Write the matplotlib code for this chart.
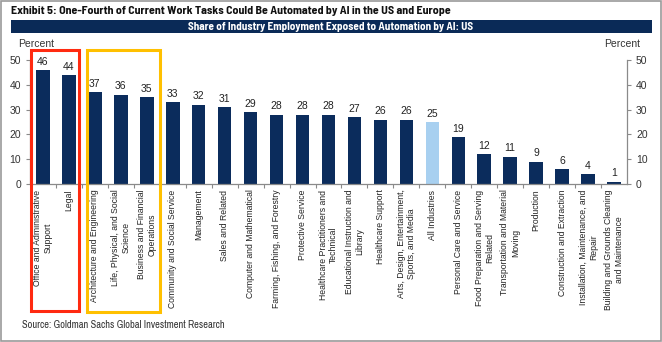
import matplotlib
matplotlib.use("Agg")
import matplotlib.pyplot as plt
from matplotlib.patches import Rectangle

plt.rcParams['font.family'] = ['Liberation Sans', 'DejaVu Sans']
narrow = ['Archivo Narrow', 'DejaVu Sans']
narrow_bold = ['Barlow Semi Condensed', 'Archivo Narrow', 'DejaVu Sans']

categories = [
    "Office and Administrative\nSupport",
    "Legal",
    "Architecture and Engineering",
    "Life, Physical, and Social\nScience",
    "Business and Financial\nOperations",
    "Community and Social Service",
    "Management",
    "Sales and Related",
    "Computer and Mathematical",
    "Farming, Fishing, and Forestry",
    "Protective Service",
    "Healthcare Practitioners and\nTechnical",
    "Educational Instruction and\nLibrary",
    "Healthcare Support",
    "Arts, Design, Entertainment,\nSports, and Media",
    "All Industries",
    "Personal Care and Service",
    "Food Preparation and Serving\nRelated",
    "Transportation and Material\nMoving",
    "Production",
    "Construction and Extraction",
    "Installation, Maintenance, and\nRepair",
    "Building and Grounds Cleaning\nand Maintenance",
]
values = [46, 44, 37, 36, 35, 33, 32, 31, 29, 28, 28, 28, 27, 26, 26, 25, 19, 12, 11, 9, 6, 4, 1]
highlight = "All Industries"

navy = "#0b2c5c"
light = "#a8d0f0"
gray = "#8a8a8a"

W, H = 662, 342
fig = plt.figure(figsize=(W / 100, H / 100), dpi=100)

def fx(px):
    return px / W

def fy(py):
    return 1 - py / H

# outer border
fig.patches.append(Rectangle((fx(1), fy(341)), fx(660), 340 / H, transform=fig.transFigure,
                             fill=False, edgecolor="#9a9a9a", lw=1.2))

fig.text(fx(11), fy(11.5), "Exhibit 5: One-Fourth of Current Work Tasks Could Be Automated by AI in the US and Europe",
         fontsize=8.6, fontweight="bold", va="center", ha="left", color="#111111", family=narrow_bold)
fig.patches.append(Rectangle((fx(11), fy(33)), fx(641), 12.5 / H, transform=fig.transFigure,
                             facecolor="#0a2a57", edgecolor="none"))
fig.text(fx(331), fy(26.8), "Share of Industry Employment Exposed to Automation by AI: US",
         fontsize=8, fontweight="bold", color="white", ha="center", va="center", family=narrow_bold)

ax = fig.add_axes([fx(30), fy(184), fx(597), 124 / H])
x = list(range(len(categories)))
colors = [light if c == highlight else navy for c in categories]
ax.bar(x, values, width=0.52, color=colors, zorder=2)
for xi, v in zip(x, values):
    ax.text(xi, v + 1.3, str(v), ha="center", va="bottom", fontsize=7.5, color="#222222")

ax.set_xlim(-0.5, len(categories) - 0.5)
ax.set_ylim(0, 50)
ax.set_yticks(range(0, 51, 10))
ax.tick_params(axis="y", labelsize=7.5, colors="#333333", length=3, width=0.8,
               left=True, right=True, labelleft=True, labelright=True, direction="out")
ax.tick_params(axis="y", color=gray)
ax.spines["top"].set_visible(False)
for s in ["left", "right", "bottom"]:
    ax.spines[s].set_color(gray)
    ax.spines[s].set_linewidth(0.9)

ax.set_xticks([i + 0.5 for i in x[:-1]], minor=True)
ax.set_xticks(x)
ax.set_xticklabels(categories, rotation=90, fontsize=6.2, color="#222222",
                   ha="center", va="top", multialignment="center")
ax.tick_params(axis="x", which="major", length=0, pad=4)
ax.tick_params(axis="x", which="minor", length=3, color=gray, width=0.8)

fig.text(fx(18), fy(44), "Percent", fontsize=7.5, color="#333333", ha="left", va="center")
fig.text(fx(640), fy(44), "Percent", fontsize=7.5, color="#333333", ha="right", va="center")

# highlight boxes
fig.patches.append(Rectangle((fx(31), fy(311)), fx(48), 261 / H, transform=fig.transFigure,
                             fill=False, edgecolor="#ff2a10", lw=2.2, zorder=5))
fig.patches.append(Rectangle((fx(87), fy(312)), fx(73), 262 / H, transform=fig.transFigure,
                             fill=False, edgecolor="#ffc000", lw=2.2, zorder=5))

fig.text(fx(22), fy(325), "Source: Goldman Sachs Global Investment Research",
         fontsize=7.5, color="#333333", ha="left", va="center", family=narrow)

fig.savefig("out.png", dpi=100)
